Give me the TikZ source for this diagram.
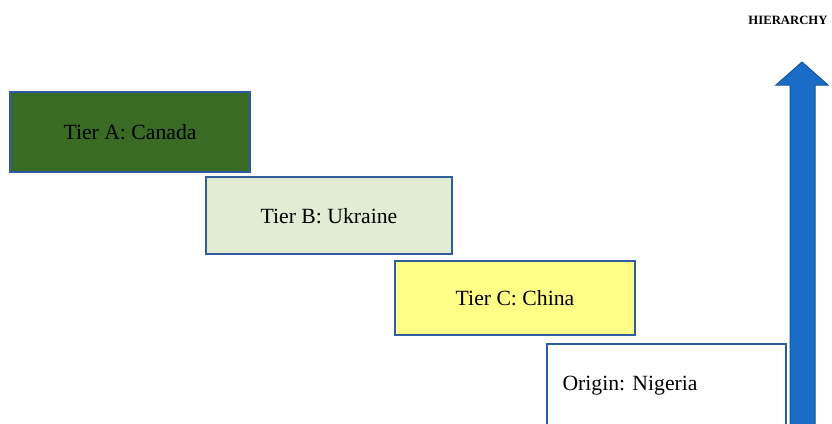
\documentclass[tikz,border=0pt]{standalone}
\usepackage{fontspec}
\setmainfont{Liberation Serif}
\definecolor{boxline}{HTML}{2F5E9E}
\definecolor{tierA}{HTML}{3A6B24}
\definecolor{tierB}{HTML}{E2ECD2}
\definecolor{tierC}{HTML}{FFFF88}
\definecolor{arrowfill}{HTML}{1A6DC6}
\definecolor{arrowline}{HTML}{14569E}
\begin{document}
\begin{tikzpicture}[x=1pt,y=-1pt,
  tierbox/.style={draw=boxline, line width=1.8pt, inner sep=0pt},
  tierlabel/.style={font=\fontsize{21.7}{24}\selectfont, text=black}]
\useasboundingbox (0,0) rectangle (832,423);
\clip (0,0) rectangle (832,423);
% stepped tiers
\draw[tierbox, fill=tierA] (10,92) rectangle (250,172);
\node[tierlabel] (ta) at (130,132) {Tier A: Canada};
\draw[tierbox, fill=tierB] (206,177) rectangle (452,254);
\node[tierlabel] (tb) at (329,216) {Tier B: Ukraine};
\draw[tierbox, fill=tierC] (395,261) rectangle (635,335);
\node[tierlabel] (tc) at (515,298) {Tier C: China};
\draw[tierbox, fill=white] (547,344) rectangle (786,440);
\node[tierlabel, anchor=west] (to) at (559,386) {Origin: Nigeria};
% upward hierarchy arrow
\draw[arrowline, line width=1pt, fill=arrowfill]
  (790,440) -- (790,85) -- (776,85) -- (802,62) -- (828,85) -- (815,85) -- (815,440) -- cycle;
\node[font=\bfseries\fontsize{12.7}{14}\selectfont] (hier) at (788,20) {HIERARCHY};
\end{tikzpicture}
\end{document}
